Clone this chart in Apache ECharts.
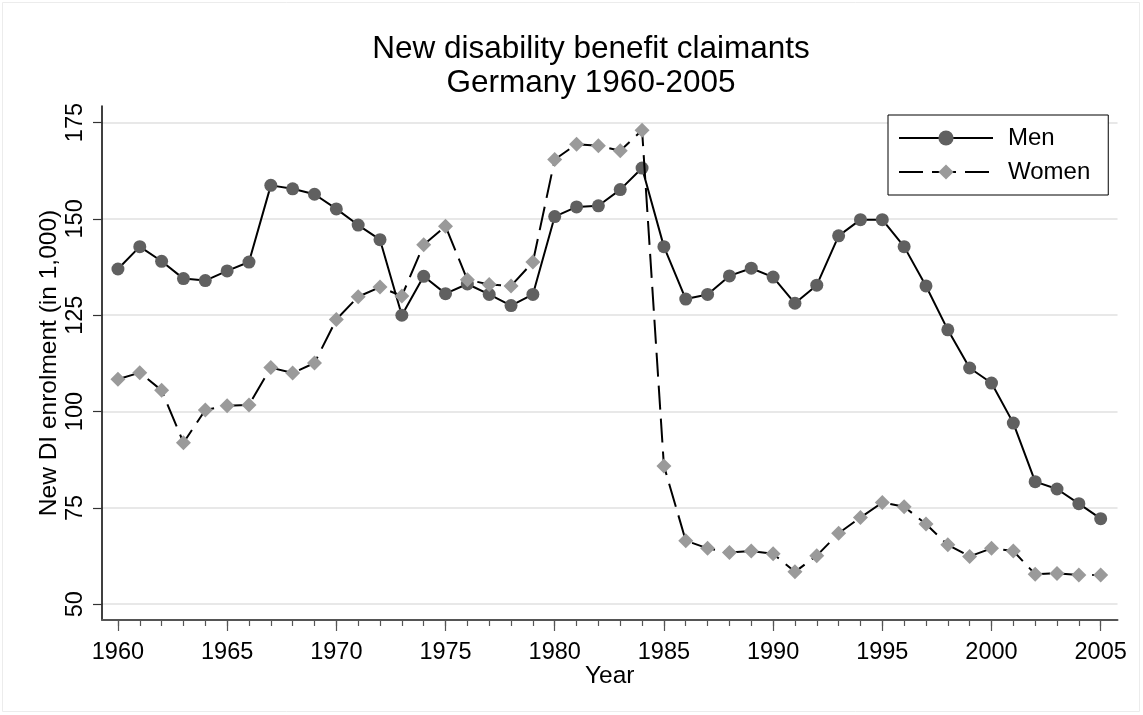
<!DOCTYPE html>
<html>
<head>
<meta charset="utf-8">
<script src="https://cdn.jsdelivr.net/npm/echarts@6/dist/echarts.min.js"></script>
<style>
html,body{margin:0;padding:0;background:#fff;}
#chart{width:1143px;height:715px;}
</style>
</head>
<body>
<div id="chart"></div>
<script>
const years = [1960,1961,1962,1963,1964,1965,1966,1967,1968,1969,1970,1971,1972,1973,1974,1975,1976,1977,1978,1979,1980,1981,1982,1983,1984,1985,1986,1987,1988,1989,1990,1991,1992,1993,1994,1995,1996,1997,1998,1999,2000,2001,2002,2003,2004,2005];
const men = [137.0,142.8,139.0,134.5,134.0,136.5,138.8,158.7,157.8,156.4,152.6,148.4,144.6,125.0,135.1,130.6,133.1,130.4,127.5,130.4,150.6,153.1,153.4,157.6,163.2,142.8,129.2,130.4,135.2,137.2,134.9,128.1,132.8,145.6,149.8,149.8,142.8,132.6,121.2,111.3,107.4,97.0,81.8,79.9,76.1,72.2];
const women = [108.4,110.1,105.5,91.9,100.4,101.5,101.7,111.4,110.0,112.6,123.9,129.8,132.3,130.0,143.3,148.1,134.2,133.0,132.6,138.8,165.4,169.4,169.0,167.7,173.0,85.9,66.5,64.5,63.4,63.8,63.1,58.4,62.6,68.4,72.5,76.4,75.3,70.8,65.4,62.4,64.5,63.8,57.8,58.0,57.6,57.6];
const yTicks = [50,75,100,125,150,175];
const xMajor = [1960,1965,1970,1975,1980,1985,1990,1995,2000,2005];
const titleLines = ['New disability benefit claimants','Germany 1960-2005'];

const FONT = 'Liberation Sans, Arial, Helvetica, sans-serif';
const chart = echarts.init(document.getElementById('chart'), null, {renderer:'canvas'});
const xMin = 1959.27, xMax = 2005.77, yMin = 45.9, yMax = 179.3;

const option = {
  backgroundColor:'#ffffff',
  animation:false,
  textStyle:{fontFamily:FONT},
  title:{
    text: titleLines.join('\n'),
    left: 591, top: 32, textAlign:'center', padding:0,
    textStyle:{fontFamily:FONT, fontSize:31.5, fontWeight:'normal', color:'#000', lineHeight:34}
  },
  graphic:[{type:'rect', shape:{x:2.5,y:2.5,width:1137,height:709}, style:{fill:'none', stroke:'#ececec', lineWidth:1}, silent:true}],
  legend:{
    orient:'vertical', left:888, top:115,
    backgroundColor:'#fff', borderColor:'#000', borderWidth:1,
    padding:[10,18,10,10],
    itemWidth:94, itemHeight:19, itemGap:8,
    textStyle:{fontFamily:FONT, fontSize:24, color:'#000', lineHeight:26, padding:[0,0,0,10]},
    data:['Men','Women']
  },
  grid:{left:102, right:25.5, top:106, bottom:95, containLabel:false},
  xAxis:[{
    type:'value', min:xMin, max:xMax,
    name:'Year', nameLocation:'middle', nameGap:44, nameMoveOverlap:false,
    nameTextStyle:{fontFamily:FONT, fontSize:24.5, color:'#000'},
    axisLine:{show:true, onZero:false, lineStyle:{color:'#555', width:2}},
    axisTick:{show:true, length:6, customValues:years, lineStyle:{color:'#555', width:1.2}},
    axisLabel:{show:true, customValues:xMajor, margin:21, fontFamily:FONT, fontSize:23.5, color:'#000', formatter:v=>String(v)},
    splitLine:{show:false}
  },{
    type:'value', min:xMin, max:xMax, position:'bottom',
    axisLine:{show:false, onZero:false},
    axisTick:{show:true, length:11, customValues:xMajor, lineStyle:{color:'#555', width:1.2}},
    axisLabel:{show:false},
    splitLine:{show:false}
  }],
  yAxis:{
    type:'value', min:yMin, max:yMax,
    name:'New DI enrolment (in 1,000)', nameLocation:'middle', nameGap:40, nameRotate:90, nameMoveOverlap:false,
    nameTextStyle:{fontFamily:FONT, fontSize:24.5, color:'#000'},
    axisLine:{show:true, onZero:false, lineStyle:{color:'#000', width:1.5}},
    axisTick:{show:true, length:9, customValues:yTicks, lineStyle:{color:'#333', width:1.2}},
    axisLabel:{show:true, customValues:yTicks, rotate:90, margin:14, fontFamily:FONT, fontSize:23.5, color:'#000', formatter:v=>String(v)},
    splitLine:{show:true, lineStyle:{color:'#e8e8e8', width:2}}
  },
  series:[{
    name:'Men', type:'line', xAxisIndex:0,
    data: years.map((y,i)=>[y, men[i]]),
    symbol:'circle', symbolSize:13,
    itemStyle:{color:'#606060'},
    lineStyle:{color:'#000', width:2, type:'solid'},
    z:3
  },{
    name:'Women', type:'line', xAxisIndex:0,
    data: years.map((y,i)=>[y, women[i]]),
    symbol:'diamond', symbolSize:15,
    itemStyle:{color:'#9a9a9a'},
    lineStyle:{color:'#000', width:2, type:[24,9]},
    z:4
  }]
};
chart.setOption(option);
</script>
</body>
</html>
